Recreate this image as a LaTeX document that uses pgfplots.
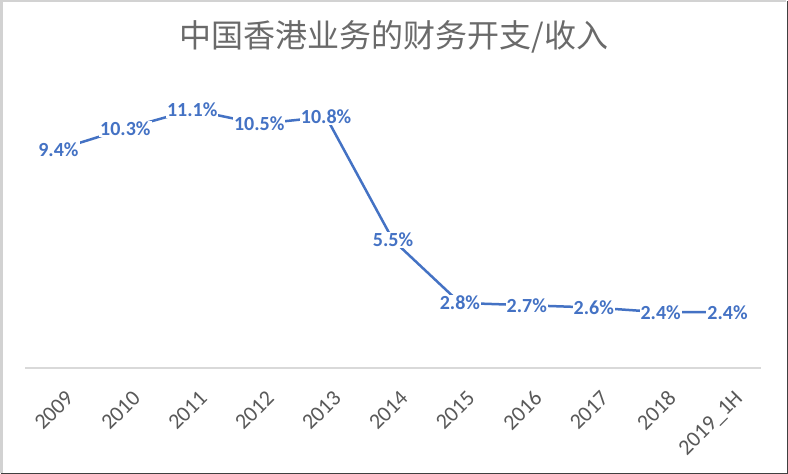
\documentclass[border=0pt]{standalone}
\usepackage{pgfplots}
\pgfplotsset{compat=1.18}
\usepackage{fontspec}
\setmainfont{Carlito}
\newfontfamily\cjk{Noto Sans CJK SC}
\definecolor{lineblue}{HTML}{4472C4}
\definecolor{txtgray}{HTML}{595959}
\definecolor{axgray}{HTML}{D9D9D9}
\begin{document}
\begin{tikzpicture}
\useasboundingbox (0,0) rectangle (788bp,474bp);
\fill[white] (0,0) rectangle (788bp,474bp);
% frame: light top/left, dark bottom/right
\draw[gray!35, line width=2.5bp] (1.25bp,1bp) -- (1.25bp,472.75bp) -- (786bp,472.75bp);
\draw[black!75, line width=1.5bp] (1.25bp,0.75bp) -- (787.25bp,0.75bp) -- (787.25bp,472.75bp);
\begin{axis}[
    at={(25bp,106bp)}, anchor=south west,
    scale only axis, width=736bp, height=279bp,
    xmin=-0.5, xmax=10.5, ymin=0, ymax=12,
    axis x line=bottom, axis y line=none,
    x axis line style={axgray, line width=1.5bp, -},
    xtick={0,...,10},
    xticklabels={2009,2010,2011,2012,2013,2014,2015,2016,2017,2018,2019\_1H},
    major tick length=0pt,
    xticklabel style={font=\fontsize{22bp}{25bp}\selectfont, text=txtgray,
        inner sep=0pt, xshift=6bp, yshift=-21bp, rotate=45, anchor=north east},
    /pgf/number format/assume math mode=true,
    nodes near coords={\pgfmathprintnumber[fixed,precision=1,fixed zerofill]{\pgfplotspointmeta}\%},
    every node near coord/.append style={anchor=center, fill=white, inner sep=1bp,
        text=lineblue, font=\fontsize{20bp}{24bp}\selectfont\bfseries},
    clip=false,
]
\addplot[lineblue, line width=2.5bp] coordinates {
    (0,9.4) (1,10.3) (2,11.1) (3,10.5) (4,10.8) (5,5.5)
    (6,2.8) (7,2.7) (8,2.6) (9,2.4) (10,2.4)
};
\end{axis}
\node[text=txtgray!90, font=\cjk\fontsize{32bp}{38bp}\selectfont] at (394bp,437bp) {中国香港业务的财务开支/收入};
\end{tikzpicture}
\end{document}
